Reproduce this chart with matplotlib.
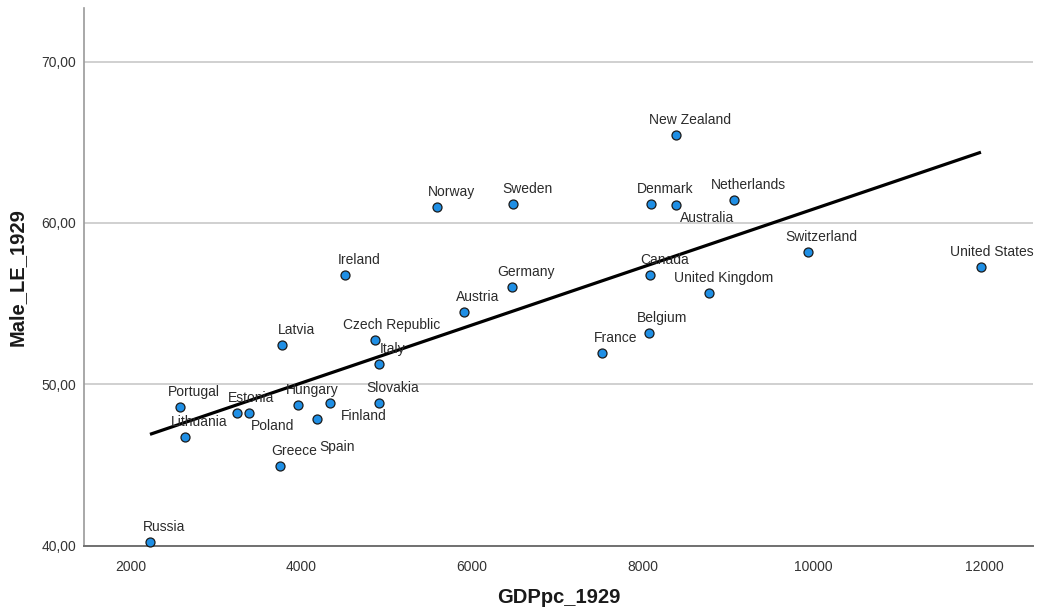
import numpy as np
import matplotlib
matplotlib.use("Agg")
import matplotlib.pyplot as plt
from matplotlib.ticker import FuncFormatter

# --- data ---
countries = [
    "Russia", "Portugal", "Lithuania", "Estonia", "Poland", "Greece", "Latvia",
    "Hungary", "Spain", "Finland", "Ireland", "Czech Republic", "Italy",
    "Slovakia", "Austria", "Norway", "Sweden", "Germany", "France", "Belgium",
    "Denmark", "Canada", "New Zealand", "Australia", "United Kingdom",
    "Netherlands", "Switzerland", "United States",
]
gdppc_1929 = [
    2226, 2577, 2639, 3247, 3387, 3746, 3778,
    3960, 4187, 4339, 4515, 4857, 4904,
    4904, 5902, 5591, 6483, 6468, 7520, 8066,
    8097, 8085, 8393, 8393, 8779,
    9071, 9930, 11960,
]
male_le_1929 = [
    40.21, 48.58, 46.76, 48.21, 48.21, 44.94, 52.44,
    48.72, 47.86, 48.83, 56.78, 52.77, 51.26,
    48.87, 54.49, 61.00, 61.18, 56.00, 51.97, 53.19,
    61.18, 56.76, 65.48, 61.10, 55.65,
    61.45, 58.21, 57.30,
]

# label placement (pixels from marker); default is up-right
DEFAULT_OFFSET = (14, 15)
LABEL_OFFSET = {
    "Poland": (23, -13),
    "Finland": (33, -13),
    "Spain": (20, -28),
    "Australia": (31, -13),
    "United States": (11, 15),
    "Czech Republic": (17, 15),
}

plt.rcParams["font.family"] = ["Liberation Sans", "DejaVu Sans"]

fig = plt.figure(figsize=(10.4, 6.11), dpi=100)
ax = fig.add_axes([0.0811, 0.1069, 0.9122, 0.8795])

x = np.array(gdppc_1929, dtype=float)
y = np.array(male_le_1929, dtype=float)

# grid + axes styling
ax.set_xlim(1457, 12570)
ax.set_ylim(40, 73.3)
ax.set_yticks([40, 50, 60, 70])
ax.set_xticks([2000, 4000, 6000, 8000, 10000, 12000])
ax.yaxis.set_major_formatter(FuncFormatter(lambda v, _: f"{v:.2f}".replace(".", ",")))
ax.yaxis.grid(True, color="#c8c8c8", linewidth=1.2)
ax.set_axisbelow(True)
for side in ("top", "right"):
    ax.spines[side].set_visible(False)
ax.spines["left"].set_color("#9a9a9a")
ax.spines["left"].set_linewidth(1.2)
ax.spines["bottom"].set_color("#707070")
ax.spines["bottom"].set_linewidth(1.4)
ax.tick_params(axis="both", length=0, labelsize=10, colors="#333333")
ax.tick_params(axis="x", pad=10)
ax.tick_params(axis="y", pad=6)

# OLS fit line over the data range
slope, intercept = np.polyfit(x, y, 1)
xs = np.array([x.min(), x.max()])
ax.plot(xs, intercept + slope * xs, color="black", linewidth=2.3, zorder=3,
        solid_capstyle="butt")

ax.scatter(x, y, s=42, facecolor="#1f8fe5", edgecolor="#1a1a1a",
           linewidth=0.9, zorder=4, clip_on=False)

for name, xi, yi in zip(countries, x, y):
    dx, dy = LABEL_OFFSET.get(name, DEFAULT_OFFSET)
    ax.annotate(name, (xi, yi), xytext=(dx, dy), textcoords="offset pixels",
                ha="center", va="center", fontsize=10, color="#2b2b2b",
                zorder=5, annotation_clip=False)

xl = ax.set_xlabel("GDPpc_1929", fontsize=14.5, fontweight="bold", color="#1a1a1a")
xl.set_va("center")
ax.xaxis.set_label_coords(0.5, -0.097)
yl = ax.set_ylabel("Male_LE_1929", fontsize=14.5, fontweight="bold", color="#1a1a1a")
yl.set_va("center")
ax.yaxis.set_label_coords(-0.071, 0.5)

fig.savefig("out.png", dpi=100)
